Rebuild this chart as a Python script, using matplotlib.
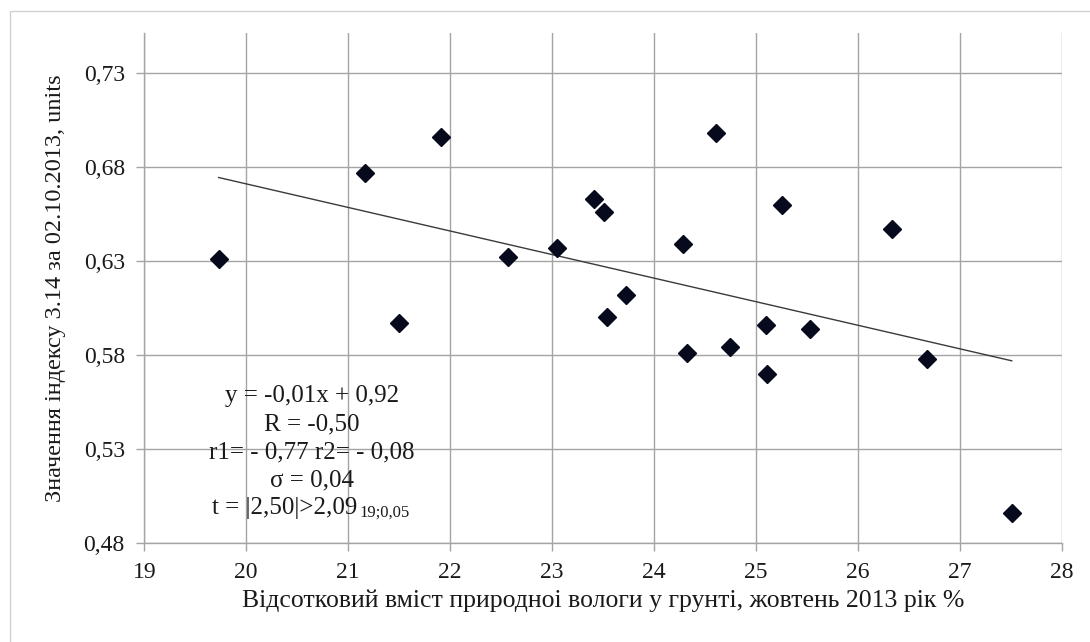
import matplotlib.pyplot as plt
import numpy
from matplotlib.ticker import FuncFormatter
from matplotlib.patches import Rectangle

plt.rcParams['font.family'] = ['Liberation Serif', 'DejaVu Serif']

#####################################################################
# data
moisture = [19.73, 21.17, 21.50, 21.91, 22.57, 23.05, 23.41, 23.51, 23.54, 23.73,
            24.28, 24.32, 24.61, 24.75, 25.10, 25.11, 25.26, 25.53, 26.34, 26.68, 27.51]
index_314 = [0.631, 0.677, 0.597, 0.696, 0.632, 0.637, 0.663, 0.656, 0.600, 0.612,
             0.639, 0.581, 0.698, 0.584, 0.596, 0.570, 0.660, 0.594, 0.647, 0.578, 0.496]

x_ticks = [19, 20, 21, 22, 23, 24, 25, 26, 27, 28]
y_ticks = [0.48, 0.53, 0.58, 0.63, 0.68, 0.73]

stats_lines = ["y = -0,01x + 0,92",
               "R = -0,50",
               "r1= - 0,77 r2= - 0,08",
               "\u03c3 = 0,04"]
t_line = "t = |2,50|>2,09"
t_sub = "19;0,05"

x_label = "Відсотковий вміст природноі вологи у грунті, жовтень 2013 рік %"
y_label = "Значення індексу 3.14 за 02.10.2013, units"

#--------------------------------
txt = '#1a1a1a'
grid = '#a4a4a4'
W, H = 1090.0, 642.0

fig = plt.figure(figsize=(10.9, 6.42), dpi=100)
ax = fig.add_axes([144.3/W, 1 - 543/H, 917.4/W, 510/H])

# outer chart frame (only top and left edge fall inside the picture)
fig.patches.append(Rectangle((10/W, -0.05), 1.05, 1.05 - 11/H,
                             transform=fig.transFigure, fill=False,
                             edgecolor='#d0d0d0', linewidth=1))

# trend line from least squares fit
coef = numpy.polyfit(moisture, index_314, 1)
xs = numpy.array([min(moisture), max(moisture)])
ax.plot(xs, numpy.polyval(coef, xs), color='#3a3a3a', linewidth=1, zorder=3)

ax.plot(moisture, index_314, linestyle='none', marker='D', markersize=9.5,
        color='#060a1c', zorder=4)

ax.set_xlim(19, 28)
ax.set_ylim(0.48, 0.7513)
ax.set_xticks(x_ticks)
ax.set_yticks(y_ticks)
ax.yaxis.set_major_formatter(FuncFormatter(lambda v, p: f"{v:.2f}".replace('.', ',')))
ax.grid(True, color=grid, linewidth=1)
ax.set_axisbelow(True)
for s in ['top', 'right']:
    ax.spines[s].set_visible(False)
for s in ['left', 'bottom']:
    ax.spines[s].set_color(grid)
    ax.spines[s].set_linewidth(1)
ax.tick_params(axis='both', direction='out', length=6, color=grid, width=1,
               labelsize=17, labelcolor=txt)
ax.tick_params(axis='y', pad=8)
ax.tick_params(axis='x', pad=8)

ax.set_xlabel(x_label, fontsize=18.5, color=txt, labelpad=4)
ax.set_ylabel(y_label, fontsize=17.5, color=txt, labelpad=13)

# regression summary, baselines in axes fraction
base = [0.2765, 0.2216, 0.1667, 0.1118]
for s, yb in zip(stats_lines, base):
    ax.text(0.183, yb, s, transform=ax.transAxes, ha='center', va='baseline',
            fontsize=18, color=txt, zorder=5)
ax.text(0.2319, 0.0569, t_line, transform=ax.transAxes, ha='right', va='baseline',
        fontsize=18, color=txt, zorder=5)
ax.text(0.2319 + 2/917.4, 0.0569 - 3/510, t_sub, transform=ax.transAxes, ha='left',
        va='baseline', fontsize=12, color=txt, zorder=5)

plt.savefig('out.png', dpi=100)
